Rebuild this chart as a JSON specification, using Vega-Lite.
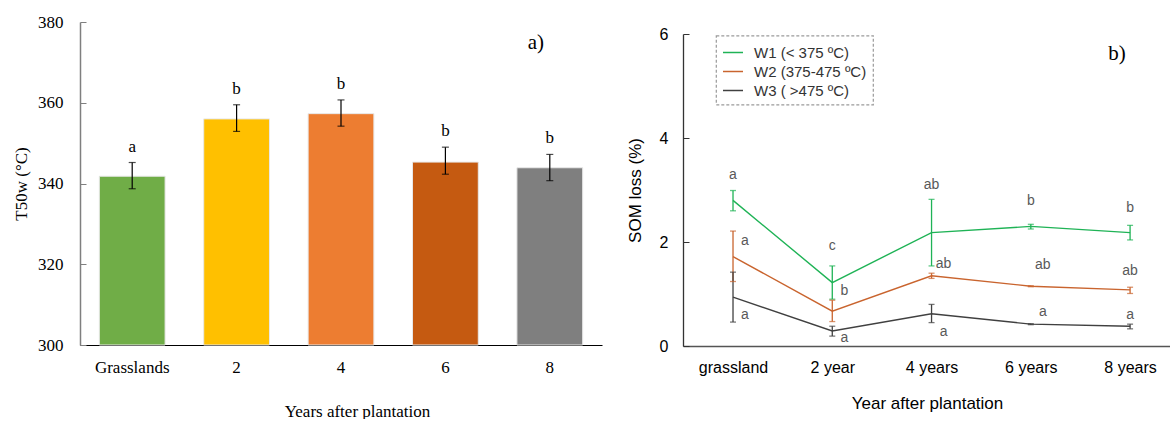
{
  "$schema": "https://vega.github.io/schema/vega-lite/v6.json",
  "padding": {"left": 12, "top": 13, "right": 0, "bottom": 0},
  "background": "white",
  "config": {"view": {"stroke": null}},
  "spacing": 24,
  "resolve": {"scale": {"color": "independent"}, "legend": {"color": "independent"}},
  "hconcat": [
    {
      "width": 522,
      "height": 323,
      "data": {"values": [
        {"group": "Grasslands", "t50": 341.8, "lo": 338.7, "hi": 345.2, "sig": "a"},
        {"group": "2", "t50": 356.0, "lo": 352.9, "hi": 359.5, "sig": "b"},
        {"group": "4", "t50": 357.3, "lo": 354.2, "hi": 360.7, "sig": "b"},
        {"group": "6", "t50": 345.3, "lo": 342.3, "hi": 349.0, "sig": "b"},
        {"group": "8", "t50": 343.9, "lo": 340.7, "hi": 347.2, "sig": "b"}
      ]},
      "encoding": {
        "x": {
          "field": "group", "type": "nominal", "sort": null,
          "scale": {"paddingInner": 0.37, "paddingOuter": 0.185},
          "axis": {
            "title": "Years after plantation", "labelAngle": 0, "ticks": false,
            "domainColor": "#000000", "domainWidth": 1.2,
            "labelFont": "Liberation Serif", "labelFontSize": 17, "labelColor": "#000000", "labelPadding": 14,
            "titleFont": "Liberation Serif", "titleFontSize": 17, "titleFontWeight": "normal", "titleColor": "#000000",
            "titlePadding": 28, "titleX": 277
          }
        }
      },
      "layer": [
        {
          "mark": {"type": "bar", "stroke": "#e8e8e8", "strokeWidth": 1},
          "encoding": {
            "y": {
              "field": "t50", "type": "quantitative",
              "scale": {"domain": [300, 380], "zero": false, "nice": false},
              "axis": {
                "title": "T50w (°C)", "values": [300, 320, 340, 360, 380], "grid": false,
                "tickSize": -6, "tickColor": "#7f7f7f", "domainColor": "#7f7f7f", "domainWidth": 1.5,
                "labelFont": "Liberation Serif", "labelFontSize": 17, "labelColor": "#000000", "labelPadding": 23,
                "titleFont": "Liberation Serif", "titleFontSize": 17, "titleFontWeight": "normal", "titleColor": "#000000",
                "titlePadding": 7
              }
            },
            "y2": {"datum": 300},
            "color": {
              "field": "group", "type": "nominal", "sort": null,
              "scale": {"domain": ["Grasslands", "2", "4", "6", "8"], "range": ["#70ad47", "#ffc000", "#ed7d31", "#c55a11", "#7f7f7f"]},
              "legend": null
            }
          }
        },
        {
          "mark": {"type": "rule", "color": "#000000", "strokeWidth": 1.2},
          "encoding": {"y": {"field": "lo", "type": "quantitative"}, "y2": {"field": "hi"}}
        },
        {
          "mark": {"type": "tick", "color": "#000000", "size": 7, "thickness": 1.2},
          "encoding": {"y": {"field": "lo", "type": "quantitative"}}
        },
        {
          "mark": {"type": "tick", "color": "#000000", "size": 7, "thickness": 1.2},
          "encoding": {"y": {"field": "hi", "type": "quantitative"}}
        },
        {
          "mark": {"type": "text", "font": "Liberation Serif", "fontSize": 17, "color": "#000000", "baseline": "middle", "dy": -16},
          "encoding": {"y": {"field": "hi", "type": "quantitative"}, "text": {"field": "sig"}}
        },
        {
          "data": {"values": [{"tag": "a)"}]},
          "mark": {"type": "text", "font": "Liberation Serif", "fontSize": 21, "color": "#000000", "baseline": "middle", "dx": -14},
          "encoding": {"x": {"datum": "8"}, "y": {"datum": 374.7}, "text": {"field": "tag"}}
        }
      ]
    },
    {
      "spacing": 0,
      "vconcat": [
        {
          "width": 1,
          "height": 3.5,
          "data": {"values": []},
          "mark": "point",
          "encoding": {}
        },
        {
          "width": 488,
          "height": 312,
          "data": {"values": [
            {"series": "W1 (< 375 ºC)", "year": "grassland", "loss": 2.80, "lo": 2.60, "hi": 2.99, "sig": "a", "sigAt": 3.29},
            {"series": "W1 (< 375 ºC)", "year": "2 year", "loss": 1.22, "lo": 0.90, "hi": 1.54, "sig": "c", "sigAt": 1.92},
            {"series": "W1 (< 375 ºC)", "year": "4 years", "loss": 2.18, "lo": 1.54, "hi": 2.82, "sig": "ab", "sigAt": 3.09},
            {"series": "W1 (< 375 ºC)", "year": "6 years", "loss": 2.30, "lo": 2.25, "hi": 2.34, "sig": "b", "sigAt": 2.78},
            {"series": "W1 (< 375 ºC)", "year": "8 years", "loss": 2.18, "lo": 2.04, "hi": 2.32, "sig": "b", "sigAt": 2.66},
            {"series": "W2 (375-475 ºC)", "year": "grassland", "loss": 1.72, "lo": 1.24, "hi": 2.21, "sig": "a", "sigAt": 2.02},
            {"series": "W2 (375-475 ºC)", "year": "2 year", "loss": 0.67, "lo": 0.47, "hi": 0.88, "sig": "b", "sigAt": 1.05},
            {"series": "W2 (375-475 ºC)", "year": "4 years", "loss": 1.35, "lo": 1.30, "hi": 1.40, "sig": "ab", "sigAt": 1.58},
            {"series": "W2 (375-475 ºC)", "year": "6 years", "loss": 1.15, "lo": 1.14, "hi": 1.16, "sig": "ab", "sigAt": 1.56},
            {"series": "W2 (375-475 ºC)", "year": "8 years", "loss": 1.08, "lo": 1.01, "hi": 1.13, "sig": "ab", "sigAt": 1.45},
            {"series": "W3 ( >475 ºC)", "year": "grassland", "loss": 0.94, "lo": 0.46, "hi": 1.42, "sig": "a", "sigAt": 0.59},
            {"series": "W3 ( >475 ºC)", "year": "2 year", "loss": 0.29, "lo": 0.19, "hi": 0.38, "sig": "a", "sigAt": 0.15},
            {"series": "W3 ( >475 ºC)", "year": "4 years", "loss": 0.62, "lo": 0.45, "hi": 0.80, "sig": "a", "sigAt": 0.27},
            {"series": "W3 ( >475 ºC)", "year": "6 years", "loss": 0.42, "lo": 0.41, "hi": 0.43, "sig": "a", "sigAt": 0.65},
            {"series": "W3 ( >475 ºC)", "year": "8 years", "loss": 0.38, "lo": 0.33, "hi": 0.42, "sig": "a", "sigAt": 0.60}
          ]},
          "encoding": {
            "x": {
              "field": "year", "type": "nominal", "sort": null,
              "scale": {"type": "point", "padding": 0.458, "align": 0.55},
              "axis": {
                "title": "Year after plantation", "labelAngle": 0, "ticks": false,
                "domainColor": "#555555", "domainWidth": 1.5,
                "labelFont": "Liberation Sans", "labelFontSize": 16, "labelColor": "#000000", "labelPadding": 13,
                "titleFont": "Liberation Sans", "titleFontSize": 17, "titleFontWeight": "normal", "titleColor": "#000000",
                "titlePadding": 20
              }
            },
            "color": {
              "field": "series", "type": "nominal",
              "scale": {"domain": ["W1 (< 375 ºC)", "W2 (375-475 ºC)", "W3 ( >475 ºC)"], "range": ["#1fb356", "#c9642e", "#404040"]},
              "legend": {
                "title": null, "orient": "none", "legendX": 33, "legendY": 13.5,
                "symbolType": "stroke", "symbolSize": 400, "symbolStrokeWidth": 1.5,
                "labelFont": "Liberation Sans", "labelFontSize": 15, "labelColor": "#333333",
                "labelOffset": 10, "rowPadding": 0, "padding": 6,
                "strokeColor": "#9a9a9a",
                "encode": {"legend": {"update": {"strokeDash": {"value": [3, 2]}, "strokeWidth": {"value": 1.2}}}}
              }
            }
          },
          "layer": [
            {
              "mark": {"type": "rule", "strokeWidth": 1.3},
              "encoding": {
                "y": {
                  "field": "lo", "type": "quantitative",
                  "scale": {"domain": [0, 6], "nice": false},
                  "axis": {
                    "title": "SOM loss (%)", "values": [0, 2, 4, 6], "grid": false,
                    "tickSize": -6, "tickColor": "#333333", "domainColor": "#333333", "domainWidth": 1.3,
                    "labelFont": "Liberation Sans", "labelFontSize": 16, "labelColor": "#000000", "labelPadding": 21,
                    "titleFont": "Liberation Sans", "titleFontSize": 17, "titleFontWeight": "normal", "titleColor": "#000000",
                    "titlePadding": 15
                  }
                },
                "y2": {"field": "hi"}
              }
            },
            {
              "mark": {"type": "tick", "size": 6, "thickness": 1.3},
              "encoding": {"y": {"field": "lo", "type": "quantitative"}}
            },
            {
              "mark": {"type": "tick", "size": 6, "thickness": 1.3},
              "encoding": {"y": {"field": "hi", "type": "quantitative"}}
            },
            {
              "mark": {"type": "line", "strokeWidth": 1.4},
              "encoding": {"y": {"field": "loss", "type": "quantitative"}}
            },
            {
              "transform": [{"filter": "datum.series == 'W1 (< 375 ºC)' || datum.year == '8 years'"}],
              "mark": {"type": "text", "font": "Liberation Sans", "fontSize": 14, "color": "#595959", "baseline": "middle"},
              "encoding": {"y": {"field": "sigAt", "type": "quantitative"}, "text": {"field": "sig"}, "color": {"value": "#595959"}}
            },
            {
              "transform": [{"filter": "datum.series != 'W1 (< 375 ºC)' && datum.year != '8 years'"}],
              "mark": {"type": "text", "font": "Liberation Sans", "fontSize": 14, "color": "#595959", "baseline": "middle", "dx": 12},
              "encoding": {"y": {"field": "sigAt", "type": "quantitative"}, "text": {"field": "sig"}, "color": {"value": "#595959"}}
            },
            {
              "data": {"values": [{"tag": "b)"}]},
              "mark": {"type": "text", "font": "Liberation Serif", "fontSize": 21, "color": "#000000", "baseline": "middle", "dx": -13},
              "encoding": {"x": {"datum": "8 years"}, "y": {"datum": 5.62}, "text": {"field": "tag"}, "color": {"value": "#000000"}}
            }
          ]
        }
      ]
    }
  ]
}
